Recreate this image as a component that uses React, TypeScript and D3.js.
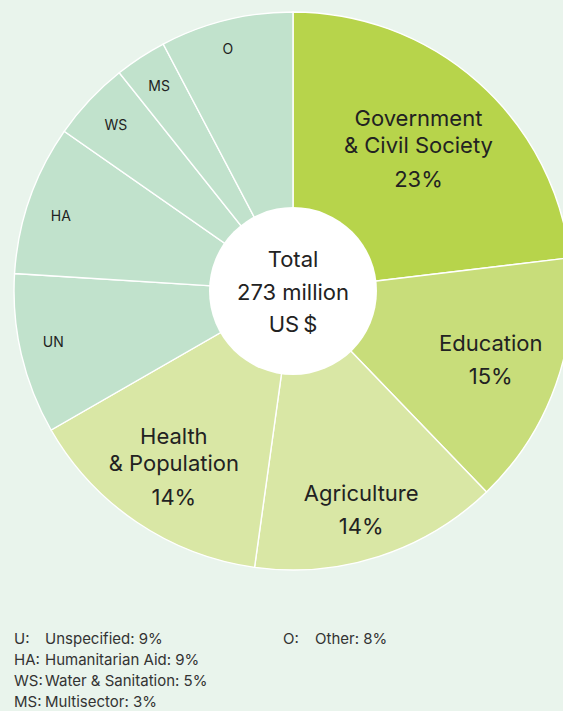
import React, { useRef, useEffect } from 'react';
import * as d3 from 'd3';

// Sector shares (percent of total), read from the slice boundaries
const sectors = ['GOV', 'EDU', 'AGR', 'HEA', 'UN', 'HA', 'WS', 'MS', 'O'];
const shares = [23.1, 14.7, 14.4, 14.5, 9.3, 8.7, 4.6, 3.0, 7.7];
const sliceLabels = [
  ['Government', '& Civil Society', '23%'],
  ['Education', '15%'],
  ['Agriculture', '14%'],
  ['Health', '& Population', '14%'],
  ['UN'],
  ['HA'],
  ['WS'],
  ['MS'],
  ['O'],
];
const centerLines = ['Total', '273 million', 'US\u2009$'];

const legendLeft = [
  ['U:', 'Unspecified: 9%'],
  ['HA:', 'Humanitarian Aid: 9%'],
  ['WS:', 'Water & Sanitation: 5%'],
  ['MS:', 'Multisector: 3%'],
];
const legendRight = [['O:', 'Other: 8%']];

const COLORS: Record<string, string> = {
  GOV: '#b7d44b',
  EDU: '#c8dd7a',
  AGR: '#d9e7a5',
  HEA: '#d9e7a5',
  UN: '#c1e2cc',
  HA: '#c1e2cc',
  WS: '#c1e2cc',
  MS: '#c1e2cc',
  O: '#c1e2cc',
};

// label placement: [distance from centre, angle nudge in degrees]
const LABEL_POS: Record<string, [number, number]> = {
  GOV: [189, 0],
  EDU: [212, 1.5],
  AGR: [236, 1.2],
  HEA: [213, 0],
  UN: [245, 1.2],
  HA: [244, -1.3],
  WS: [243, 0],
  MS: [245, 0],
  O: [251, -1.2],
};

const WIDTH = 563;
const HEIGHT = 711;
const FONT = 'Inter, "Noto Sans", sans-serif';

const App: React.FC = () => {
  const svgRef = useRef<SVGSVGElement>(null);

  useEffect(() => {
    if (!svgRef.current) return;
    d3.select(svgRef.current).selectAll('*').remove();

    const cx = 293;
    const cy = 291;
    const outerR = 279;
    const innerR = 84;

    const svg = d3.select(svgRef.current).attr('width', WIDTH).attr('height', HEIGHT);

    svg.append('rect').attr('width', WIDTH).attr('height', HEIGHT).attr('fill', '#e9f4ec');

    const data = sectors.map((key, i) => ({ key, value: shares[i], lines: sliceLabels[i] }));
    type D = (typeof data)[number];

    const pie = d3
      .pie<D>()
      .value((d) => d.value)
      .sort(null);

    const arc = d3.arc<d3.PieArcDatum<D>>().innerRadius(0).outerRadius(outerR);

    const g = svg.append('g').attr('transform', `translate(${cx}, ${cy})`);
    const arcs = pie(data);

    g.selectAll('path')
      .data(arcs)
      .enter()
      .append('path')
      .attr('d', arc)
      .attr('fill', (d) => COLORS[d.data.key])
      .attr('stroke', '#ffffff')
      .attr('stroke-width', 1.4);

    // white hole
    g.append('circle').attr('r', innerR).attr('fill', '#ffffff');

    // slice labels
    arcs.forEach((d) => {
      const [r, nudge] = LABEL_POS[d.data.key];
      const mid = (d.startAngle + d.endAngle) / 2 + (nudge * Math.PI) / 180;
      const big = d.data.lines.length > 1;
      const x = Math.sin(mid) * r;
      const y = -Math.cos(mid) * r;
      const offsets = d.data.lines.length === 3 ? [-24, 3, 37] : d.data.lines.length === 2 ? [-16, 17] : [5];
      const t = g
        .append('text')
        .attr('text-anchor', 'middle')
        .attr('fill', '#222222')
        .style('font-family', FONT)
        .style('font-size', big ? '22px' : '14px');
      d.data.lines.forEach((line, j) => {
        t.append('tspan').attr('x', x).attr('y', y + offsets[j]).text(line);
      });
    });

    // centre text
    const ct = g
      .append('text')
      .attr('text-anchor', 'middle')
      .attr('fill', '#222222')
      .style('font-family', FONT)
      .style('font-size', '22px');
    centerLines.forEach((line, j) => {
      ct.append('tspan').attr('x', 0).attr('y', -24 + j * 32.5).text(line);
    });

    // legend
    const legend = svg
      .append('g')
      .style('font-family', FONT)
      .style('font-size', '15px')
      .attr('fill', '#333333');
    const drawCol = (rows: string[][], codeX: number, textX: number) => {
      rows.forEach(([code, text], i) => {
        const y = 644 + i * 21;
        legend.append('text').attr('x', codeX).attr('y', y).text(code);
        legend.append('text').attr('x', textX).attr('y', y).text(text);
      });
    };
    drawCol(legendLeft, 14, 45);
    drawCol(legendRight, 283, 315);
  }, []);

  return (
    <div style={{ position: 'absolute', left: 0, top: 0, width: WIDTH, height: HEIGHT, overflow: 'hidden' }}>
      <svg ref={svgRef} style={{ display: 'block' }} />
    </div>
  );
};

export default App;
